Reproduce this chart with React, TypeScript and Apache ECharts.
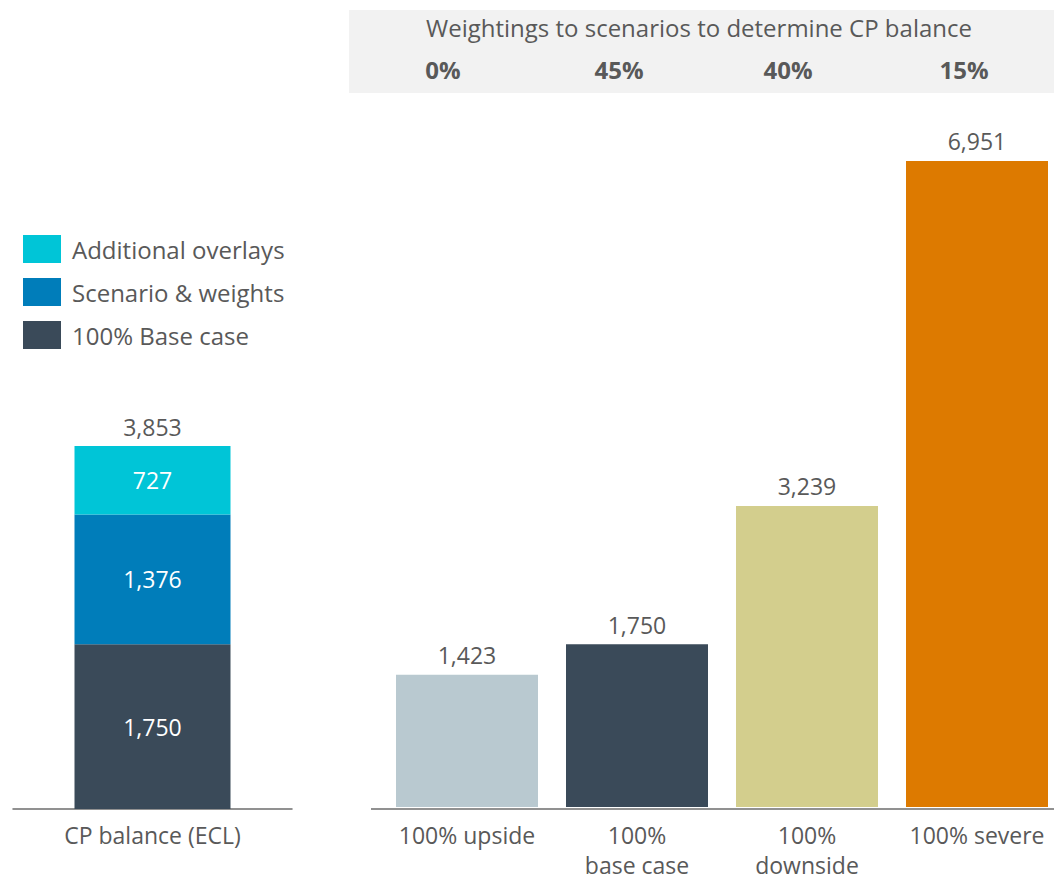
import React, { useEffect, useRef } from "react";
import * as echarts from "echarts";

const leftCategory = ["CP balance (ECL)"];
const baseCase = [1750];
const scenarioWeights = [1376];
const additionalOverlays = [727];
const cpTotal = [3853];

const scenarioCategories = ["100% upside", "100%\nbase case", "100%\ndownside", "100% severe"];
const scenarioValues = [1423, 1750, 3239, 6951];
const scenarioColors = ["#b9c9d0", "#3a4a59", "#d3ce8d", "#dd7a00"];

const headerTitle = "Weightings to scenarios to determine CP balance";
const weightLabels = ["0%", "45%", "40%", "15%"];
const weightCenters = [443, 619, 788, 964];

const FONT = "'Open Sans', 'Noto Sans', sans-serif";
const GREY = "#595959";
const FS = 24;

const fmt = (v: number) => v.toLocaleString("en-US");

export default function App() {
  const ref = useRef<HTMLDivElement>(null);
  useEffect(() => {
    if (!ref.current) return;
    const chart = echarts.init(ref.current, undefined, { renderer: "svg" });
    const labelOut = { show: true, position: "top", distance: 8, color: GREY, fontSize: 23, fontFamily: FONT, formatter: (p: any) => fmt(p.value) };
    const labelIn = { show: true, position: "inside", color: "#ffffff", fontSize: 23, fontFamily: FONT, formatter: (p: any) => fmt(p.value) };
    chart.setOption({
      animation: false,
      textStyle: { fontFamily: FONT },
      legend: {
        orient: "vertical",
        left: 23,
        top: 235,
        padding: 0,
        itemWidth: 38,
        itemHeight: 28,
        itemGap: 15,
        icon: "rect",
        data: ["Additional overlays", "Scenario & weights", "100% Base case"],
        textStyle: { fontSize: FS, color: GREY, fontFamily: FONT, padding: [0, 0, 0, 6] },
        selectedMode: false,
      },
      grid: [
        { left: 13, width: 279, top: 100, bottom: 71 },
        { left: 382, width: 680, top: 100, bottom: 71 },
      ],
      xAxis: [
        {
          gridIndex: 0,
          type: "category",
          data: leftCategory,
          axisTick: { show: false },
          axisLine: { lineStyle: { color: "#6d6d6d", width: 1.5 } },
          axisLabel: { color: GREY, fontSize: 23, fontFamily: FONT, margin: 14 },
        },
        {
          gridIndex: 1,
          type: "category",
          data: scenarioCategories,
          axisTick: { show: false },
          axisLine: { show: false },
          axisLabel: { color: GREY, fontSize: 23, fontFamily: FONT, margin: 13, lineHeight: 30, interval: 0 },
        },
      ],
      yAxis: [
        { gridIndex: 0, type: "value", min: 0, max: 7527, show: false, splitLine: { show: false } },
        { gridIndex: 1, type: "value", min: 0, max: 7607, show: false, splitLine: { show: false } },
      ],
      series: [
        {
          name: "total",
          type: "bar",
          xAxisIndex: 0,
          yAxisIndex: 0,
          barWidth: 156,
          barGap: "-100%",
          z: 1,
          data: cpTotal,
          itemStyle: { color: "rgba(0,0,0,0)" },
          label: labelOut,
          silent: true,
        },
        {
          name: "100% Base case",
          type: "bar",
          stack: "cp",
          xAxisIndex: 0,
          yAxisIndex: 0,
          barWidth: 156,
          barGap: "-100%",
          z: 2,
          data: baseCase,
          itemStyle: { color: "#3a4a59" },
          label: labelIn,
        },
        {
          name: "Scenario & weights",
          type: "bar",
          stack: "cp",
          xAxisIndex: 0,
          yAxisIndex: 0,
          barWidth: 156,
          barGap: "-100%",
          z: 2,
          data: scenarioWeights,
          itemStyle: { color: "#007dba" },
          label: labelIn,
        },
        {
          name: "Additional overlays",
          type: "bar",
          stack: "cp",
          xAxisIndex: 0,
          yAxisIndex: 0,
          barWidth: 156,
          barGap: "-100%",
          z: 2,
          data: additionalOverlays,
          itemStyle: { color: "#00c5d7" },
          label: labelIn,
        },
        {
          name: "scenarios",
          type: "bar",
          xAxisIndex: 1,
          yAxisIndex: 1,
          barWidth: 142,
          data: scenarioValues.map((v, i) => ({ value: v, itemStyle: { color: scenarioColors[i] } })),
          label: labelOut,
        },
      ],
      graphic: [
        { type: "rect", shape: { x: 349, y: 10, width: 705, height: 83 }, style: { fill: "#f2f2f2" }, silent: true },
        {
          type: "text",
          x: 426,
          y: 27,
          style: { text: headerTitle, fontSize: FS, fontFamily: FONT, fill: GREY, verticalAlign: "middle", align: "left" },
        },
        ...weightLabels.map((w, i) => ({
          type: "text",
          x: weightCenters[i],
          y: 69,
          style: { text: w, fontSize: FS, fontWeight: "bold", fontFamily: FONT, fill: GREY, verticalAlign: "middle", align: "center" },
        })),
        { type: "line", shape: { x1: 371, y1: 809, x2: 1054, y2: 809 }, style: { stroke: "#6d6d6d", lineWidth: 1.5 }, silent: true },
      ],
    });
    return () => chart.dispose();
  }, []);
  return (
    <div style={{ position: "absolute", left: 0, top: 0, width: 1054, height: 880, overflow: "hidden" }}>
      <div ref={ref} style={{ width: 1062, height: 880 }} />
    </div>
  );
}
